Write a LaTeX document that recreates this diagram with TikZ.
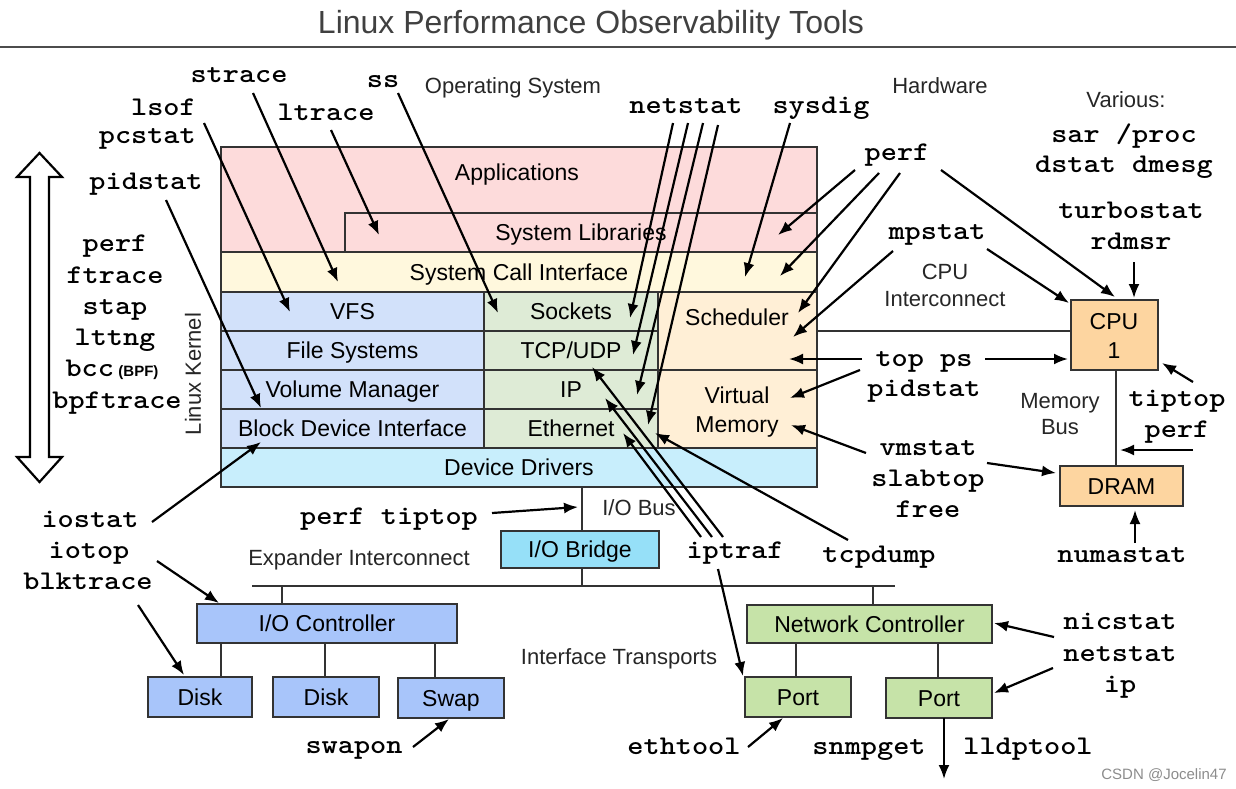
\documentclass[tikz,border=0pt]{standalone}
\usepackage{fontspec}
\setmainfont{Liberation Sans}
\newfontfamily\monofam{lmmonolt10-bold}[Extension=.otf, FakeStretch=1.14]
\usetikzlibrary{arrows.meta}
\newcommand\toolfont{\monofam\fontsize{27}{31}\selectfont}
\newcommand\boxfont{\fontsize{23}{27}\selectfont}
\newcommand\notefont{\fontsize{22}{26}\selectfont}
\definecolor{appc}{RGB}{253,219,219}
\definecolor{scic}{RGB}{255,248,221}
\definecolor{fsc}{RGB}{210,225,250}
\definecolor{netc}{RGB}{222,235,214}
\definecolor{kerc}{RGB}{255,239,214}
\definecolor{ddc}{RGB}{200,238,252}
\definecolor{hwc}{RGB}{253,213,160}
\definecolor{brc}{RGB}{150,224,248}
\definecolor{ioc}{RGB}{168,197,250}
\definecolor{ncc}{RGB}{198,227,168}
\begin{document}
\begin{tikzpicture}[x=1pt,y=-1pt,
  box/.style={draw=black!80, line width=1.3pt, inner sep=0pt, outer sep=0pt, anchor=north west, font=\boxfont, text height=16.5pt, text depth=0pt},
  lbl/.style={inner sep=0pt, font=\boxfont, text height=16.5pt, text depth=0pt},
  tool/.style={inner sep=0pt, anchor=base, font=\toolfont},
  note/.style={inner sep=0pt, anchor=base, font=\notefont, text=black!85},
  arr/.style={-{Latex[length=14pt,width=11pt]}, line width=2.2pt},
  wire/.style={line width=1.3pt, draw=black!80},
]
\useasboundingbox (0,0) rectangle (1236,788);

% title
\node[font=\fontsize{32}{36}\selectfont, text=black!75, inner sep=0pt, anchor=base] (title) at (591,33) {Linux Performance Observability Tools};
\coordinate (rl) at (0,47); \coordinate (rr) at (1236,47);
\draw[line width=1.2pt, black!70] (rl) -- (rr);

% software stack
\node[box, fill=appc, minimum width=596pt, minimum height=105pt] (apps) at (221,147) {};
\node[lbl] (appsl) at (517,172) {Applications};
\node[box, fill=appc, minimum width=472pt, minimum height=39pt] (syslib) at (345,213) {System Libraries};
\node[box, fill=scic, minimum width=596pt, minimum height=40pt] (sci) at (221,252) {System Call Interface};
\node[box, fill=fsc, minimum width=263pt, minimum height=39pt] (vfs) at (221,292) {VFS};
\node[box, fill=fsc, minimum width=263pt, minimum height=39pt] (fs) at (221,331) {File Systems};
\node[box, fill=fsc, minimum width=263pt, minimum height=39pt] (vm) at (221,370) {Volume Manager};
\node[box, fill=fsc, minimum width=263pt, minimum height=39pt] (bdi) at (221,409) {Block Device Interface};
\node[box, fill=netc, minimum width=174pt, minimum height=39pt] (sock) at (484,292) {Sockets};
\node[box, fill=netc, minimum width=174pt, minimum height=39pt] (tcp) at (484,331) {TCP/UDP};
\node[box, fill=netc, minimum width=174pt, minimum height=39pt] (ip) at (484,370) {IP};
\node[box, fill=netc, minimum width=174pt, minimum height=39pt] (eth) at (484,409) {Ethernet};
\node[box, fill=kerc, minimum width=159pt, minimum height=78pt] (sched) at (658,292) {};
\node[lbl] (schedl) at (737,317) {Scheduler};
\node[box, fill=kerc, minimum width=159pt, minimum height=78pt] (virt) at (658,370) {};
\node[lbl] (virtl1) at (737,395) {Virtual};
\node[lbl] (virtl2) at (737,424) {Memory};
\node[box, fill=ddc, minimum width=596pt, minimum height=39pt] (dd) at (221,448) {Device Drivers};

% hardware
\node[box, fill=hwc, minimum width=87pt, minimum height=70pt] (cpu) at (1071,300) {};
\node[lbl] (cpul1) at (1114,321) {CPU};
\node[lbl] (cpul2) at (1114,350) {1};
\node[box, fill=hwc, minimum width=123pt, minimum height=40pt] (dram) at (1060,466) {DRAM};
\node[box, fill=brc, minimum width=158pt, minimum height=37pt] (bridge) at (501,531) {I/O Bridge};
\node[box, fill=ioc, minimum width=260pt, minimum height=39pt] (ioctl) at (197,604) {I/O Controller};
\node[box, fill=ioc, minimum width=104pt, minimum height=40pt] (disk1) at (148,677) {Disk};
\node[box, fill=ioc, minimum width=106pt, minimum height=40pt] (disk2) at (273,677) {Disk};
\node[box, fill=ioc, minimum width=106pt, minimum height=40pt] (swap) at (398,678) {Swap};
\node[box, fill=ncc, minimum width=245pt, minimum height=38pt] (nc) at (747,605) {Network Controller};
\node[box, fill=ncc, minimum width=106pt, minimum height=40pt] (port1) at (745,677) {Port};
\node[box, fill=ncc, minimum width=106pt, minimum height=40pt] (port2) at (886,678) {Port};

% wires
\draw[wire] (sched.east) -- (sched.east -| cpu.west);
\coordinate (mb1) at (1116,370); \coordinate (mb2) at (1116,466);
\draw[wire] (mb1) -- (mb2);
\coordinate (iob1) at (582,487); \coordinate (iob2) at (582,531);
\draw[wire] (iob1) -- (iob2);
\coordinate (br1) at (582,568); \coordinate (br2) at (582,586);
\draw[wire] (br1) -- (br2);
\coordinate (exl) at (252,586); \coordinate (exr) at (895,586);
\draw[wire] (exl) -- (exr);
\coordinate (ex1) at (282,586); \coordinate (ex1b) at (282,604);
\draw[wire] (ex1) -- (ex1b);
\coordinate (ex2) at (873,586); \coordinate (ex2b) at (873,605);
\draw[wire] (ex2) -- (ex2b);
\coordinate (d1a) at (221,643); \coordinate (d1b) at (221,677);
\coordinate (d2a) at (325,643); \coordinate (d2b) at (325,677);
\coordinate (d3a) at (435,643); \coordinate (d3b) at (435,678);
\draw[wire] (d1a) -- (d1b); \draw[wire] (d2a) -- (d2b); \draw[wire] (d3a) -- (d3b);
\coordinate (p1a) at (796,643); \coordinate (p1b) at (796,677);
\coordinate (p2a) at (938,643); \coordinate (p2b) at (938,678);
\draw[wire] (p1a) -- (p1b); \draw[wire] (p2a) -- (p2b);

% notes
\node[note] (os) at (513,93) {Operating System};
\node[note] (hw) at (940,93) {Hardware};
\node[note] (var) at (1126,107) {Various:};
\node[note] (ci1) at (945,279) {CPU};
\node[note] (ci2) at (945,306) {Interconnect};
\node[note] (mbl1) at (1060,408) {Memory};
\node[note] (mbl2) at (1060,434) {Bus};
\node[note] (iobl) at (639,515) {I/O Bus};
\node[note] (exlbl) at (359,565) {Expander Interconnect};
\node[note] (itl) at (619,664) {Interface Transports};
\node[note, anchor=center, rotate=90] (lk) at (193,374) {Linux Kernel};
\node[inner sep=0pt, anchor=base, font=\fontsize{15}{18}\selectfont, text=black!45] (wm) at (1164,779) {CSDN @Jocelin47};

% kernel double arrow
\draw[line width=2.2pt, fill=white] (39.5,153) -- (62,177) -- (49,177) -- (49,457) -- (62,457) -- (39.5,482) -- (17,457) -- (30,457) -- (30,177) -- (17,177) -- cycle;

% tools
\node[tool] (t-perf) at (115,251) {perf};
\node[tool] (t-ftrace) at (115,283) {ftrace};
\node[tool] (t-stap) at (115,314) {stap};
\node[tool] (t-lttng) at (115,345) {lttng};
\node[tool] (t-bcc) at (112,376) {bcc\,{\fontsize{15}{18}\rmfamily\bfseries (BPF)}};
\node[tool] (t-bpft) at (117,408) {bpftrace};
\node[tool] (t-strace) at (239,82) {strace};
\node[tool] (t-ss) at (383,87) {ss};
\node[tool, anchor=base east] (t-lsof) at (196,115) {lsof};
\node[tool, anchor=base east] (t-pcstat) at (196,143) {pcstat};
\node[tool] (t-pid1) at (146,189) {pidstat};
\node[tool] (t-ltrace) at (326,120) {ltrace};
\node[tool] (t-netstat) at (686,113) {netstat};
\node[tool] (t-sysdig) at (821,113) {sysdig};
\node[tool] (t-perf2) at (897,160) {perf};
\node[tool] (t-mpstat) at (937,239) {mpstat};
\node[tool] (t-sar) at (1124,142) {sar /proc};
\node[tool] (t-dstat) at (1124,172) {dstat dmesg};
\node[tool] (t-turbo) at (1131,218) {turbostat};
\node[tool] (t-rdmsr) at (1131,249) {rdmsr};
\node[tool] (t-topps) at (924,366) {top ps};
\node[tool] (t-pid2) at (924,396) {pidstat};
\node[tool] (t-tiptop) at (1177,406) {tiptop};
\node[tool] (t-perf3) at (1177,437) {perf};
\node[tool] (t-vmstat) at (928,455) {vmstat};
\node[tool] (t-slab) at (928,486) {slabtop};
\node[tool] (t-free) at (928,517) {free};
\node[tool] (t-numa) at (1122,562) {numastat};
\node[tool] (t-nic) at (1120,629) {nicstat};
\node[tool] (t-netstat2) at (1120,661) {netstat};
\node[tool] (t-ip) at (1120,692) {ip};
\node[tool] (t-iptraf) at (735,558) {iptraf};
\node[tool] (t-tcpdump) at (879,562) {tcpdump};
\node[tool] (t-perftip) at (389,524) {perf tiptop};
\node[tool] (t-iostat) at (90,527) {iostat};
\node[tool] (t-iotop) at (89,558) {iotop};
\node[tool] (t-blk) at (88,589) {blktrace};
\node[tool] (t-swapon) at (354,753) {swapon};
\node[tool] (t-ethtool) at (684,754) {ethtool};
\node[tool] (t-snmp) at (869,754) {snmpget};
\node[tool] (t-lldp) at (1028,754) {lldptool};

% arrow end points
\coordinate (a1s) at (253,93);   \coordinate (a1e) at (338,282);
\coordinate (a2s) at (204,123);  \coordinate (a2e) at (290,312);
\coordinate (a3s) at (331,130);  \coordinate (a3e) at (379,235);
\coordinate (a4s) at (398,93);   \coordinate (a4e) at (498,313);
\coordinate (a5s) at (166,200);  \coordinate (a5e) at (261,408);
\coordinate (a6s) at (673,123);  \coordinate (a6e) at (630,318);
\coordinate (a7s) at (688,123);  \coordinate (a7e) at (633,355);
\coordinate (a8s) at (703,123);  \coordinate (a8e) at (637,395);
\coordinate (a9s) at (718,125);  \coordinate (a9e) at (648,425);
\coordinate (a10s) at (790,123); \coordinate (a10e) at (745,277);
\coordinate (a11s) at (855,170); \coordinate (a11e) at (778,235);
\coordinate (a12s) at (879,173); \coordinate (a12e) at (780,276);
\coordinate (a13s) at (900,173); \coordinate (a13e) at (798,313);
\coordinate (a14s) at (941,170); \coordinate (a14e) at (1115,297);
\coordinate (a15s) at (893,251); \coordinate (a15e) at (793,337);
\coordinate (a16s) at (987,249); \coordinate (a16e) at (1069,303);
\coordinate (a17s) at (1134,262); \coordinate (a17e) at (1134,298);
\coordinate (a18s) at (862,359); \coordinate (a18e) at (789,359);
\coordinate (a19s) at (985,359); \coordinate (a19e) at (1068,359);
\coordinate (a20s) at (860,370); \coordinate (a20e) at (790,398);
\coordinate (a21s) at (866,453); \coordinate (a21e) at (791,425);
\coordinate (a22s) at (987,463); \coordinate (a22e) at (1056,473);
\coordinate (a23s) at (1193,382); \coordinate (a23e) at (1162,363);
\coordinate (a24s) at (1193,450); \coordinate (a24e) at (1120,450);
\coordinate (a25s) at (1135,543); \coordinate (a25e) at (1135,510);
\coordinate (a26s) at (723,537); \coordinate (a26e) at (592,367);
\coordinate (a27s) at (712,537); \coordinate (a27e) at (605,398);
\coordinate (a28s) at (701,537); \coordinate (a28e) at (623,433);
\coordinate (a29s) at (848,540); \coordinate (a29e) at (655,433);
\coordinate (a30s) at (718,569); \coordinate (a30e) at (743,676);
\coordinate (a31s) at (748,747); \coordinate (a31e) at (783,718);
\coordinate (a32s) at (944,718); \coordinate (a32e) at (944,779);
\coordinate (a33s) at (1054,637); \coordinate (a33e) at (994,623);
\coordinate (a34s) at (1053,668); \coordinate (a34e) at (994,693);
\coordinate (a35s) at (152,522); \coordinate (a35e) at (261,442);
\coordinate (a36s) at (157,561); \coordinate (a36e) at (219,603);
\coordinate (a37s) at (138,605); \coordinate (a37e) at (184,675);
\coordinate (a38s) at (413,747); \coordinate (a38e) at (449,719);
\coordinate (a39s) at (492,513); \coordinate (a39e) at (578,507);

\foreach \i in {1,...,39} { \draw[arr] (a\i s) -- (a\i e); }
\end{tikzpicture}
\end{document}
